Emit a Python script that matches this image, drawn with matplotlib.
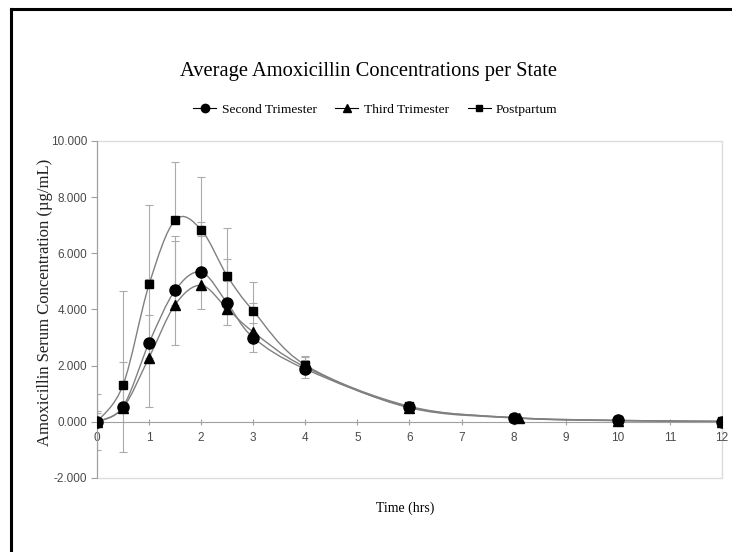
import matplotlib
matplotlib.use('Agg')
import matplotlib.pyplot as plt
from matplotlib.path import Path
from matplotlib.patches import PathPatch, Rectangle
from matplotlib.lines import Line2D
import numpy as np

# 数据
time_2nd = [0, 0.5, 1, 1.5, 2, 2.5, 3, 4, 6, 8, 10, 12]
time_3rd = [0, 0.5, 1, 1.5, 2, 2.5, 3, 4, 6, 8.1, 10, 12]
time_pp = [0, 0.5, 1, 1.5, 2, 2.5, 3, 4, 6, 8, 10, 12]

second_tri = [0.0, 0.54, 2.81, 4.68, 5.33, 4.23, 3.00, 1.88, 0.52, 0.15, 0.05, 0.01]
third_tri = [0.0, 0.50, 2.29, 4.17, 4.86, 4.03, 3.20, 1.95, 0.50, 0.13, 0.04, 0.01]
postpartum = [0.0, 1.31, 4.89, 7.18, 6.84, 5.20, 3.95, 2.02, 0.55, 0.15, 0.05, 0.02]

# 误差（标准差）
sd_2nd = [1.00, 1.60, 2.27, 1.95, 1.30, 0.80, 0.51, 0.31, 0.10, 0.05, 0.02, 0.01]
sd_3rd = [0.30, 0.80, 1.50, 2.28, 2.27, 1.77, 1.04, 0.40, 0.10, 0.05, 0.02, 0.01]
sd_pp = [0.37, 3.34, 2.83, 2.08, 1.86, 1.70, 1.03, 0.30, 0.10, 0.05, 0.02, 0.01]

labels = ['Second Trimester', 'Third Trimester', 'Postpartum']
x_ticks = list(range(0, 13))
y_ticks = [-2, 0, 2, 4, 6, 8, 10]

line_color = '#808080'
err_color = '#ababab'
serif = ['Liberation Serif', 'DejaVu Serif']
sans = ['Liberation Sans', 'DejaVu Sans']


def smooth_path(xs, ys):
    # Excel 风格的平滑曲线（三次贝塞尔）
    xs = np.asarray(xs, float)
    ys = np.asarray(ys, float)
    pts = np.column_stack([xs, ys])
    verts = [pts[0]]
    codes = [Path.MOVETO]
    n = len(pts)
    for i in range(n - 1):
        p0 = pts[i - 1] if i > 0 else pts[i]
        p1 = pts[i]
        p2 = pts[i + 1]
        p3 = pts[i + 2] if i + 2 < n else pts[i + 1]
        c1 = p1 + (p2 - p0) / 6.0
        c2 = p2 - (p3 - p1) / 6.0
        verts += [c1, c2, p2]
        codes += [Path.CURVE4] * 3
    return Path(verts, codes)


fig = plt.figure(figsize=(7.32, 5.52), dpi=100)
ax = fig.add_axes([0.1325, 0.1341, 0.8538, 0.6105])

# 误差棒
ax.errorbar(time_2nd, second_tri, yerr=sd_2nd, fmt='none', ecolor=err_color,
            elinewidth=0.8, capsize=3, capthick=0.8, zorder=1)
ax.errorbar(time_3rd, third_tri, yerr=[np.zeros(len(sd_3rd)), sd_3rd], fmt='none',
            ecolor=err_color, elinewidth=0.8, capsize=3, capthick=0.8, zorder=1)
ax.errorbar(time_pp, postpartum, yerr=[np.zeros(len(sd_pp)), sd_pp], fmt='none',
            ecolor=err_color, elinewidth=0.8, capsize=3, capthick=0.8, zorder=1)

# 平滑曲线
for xs, ys in [(time_2nd, second_tri), (time_3rd, third_tri), (time_pp, postpartum)]:
    ax.add_patch(PathPatch(smooth_path(xs, ys), fill=False, ec=line_color,
                           lw=1.0, transform=ax.transData, zorder=2))

# 标记点
ax.plot(time_2nd, second_tri, 'o', color='black', ms=8, ls='none', zorder=3)
ax.plot(time_3rd, third_tri, '^', color='black', ms=6.5, ls='none', zorder=3)
ax.plot(time_pp, postpartum, 's', color='black', ms=6, ls='none', zorder=3)

ax.set_xlim(0, 12)
ax.set_ylim(-2, 10)
ax.set_xticks(x_ticks)
ax.set_yticks(y_ticks)
ax.set_yticklabels(['%.3f' % v for v in y_ticks])

# 坐标轴
ax.spines['top'].set_visible(False)
ax.spines['right'].set_visible(False)
ax.spines['bottom'].set_position(('data', 0))
ax.spines['bottom'].set_color('#a0a0a0')
ax.spines['left'].set_color('#a0a0a0')
ax.add_patch(Rectangle((0, 0), 1, 1, transform=ax.transAxes, fill=False,
                       ec='#dcdcdc', lw=1.0, zorder=0, clip_on=False))
ax.tick_params(axis='both', colors='#a0a0a0', labelcolor='#4a4a4a',
               labelsize=8.5, length=4)
ax.tick_params(axis='x', direction='inout', length=5, pad=5)
ax.tick_params(axis='y', pad=3)
for t in ax.get_xticklabels() + ax.get_yticklabels():
    t.set_family(sans)

ax.set_ylabel('Amoxicillin Serum Concentration (µg/mL)', family=serif,
              fontsize=12, color='#202020')
ax.yaxis.set_label_coords(-0.071, 0.52)
ax.text(0.4928, -0.07, 'Time (hrs)', transform=ax.transAxes, ha='center',
        va='top', family=serif, fontsize=10)

fig.text(0.504, 0.871, 'Average Amoxicillin Concentrations per State',
         ha='center', va='center', family=serif, fontsize=14.8)

handles = [
    Line2D([], [], color='black', lw=0.8, marker='o', ms=6),
    Line2D([], [], color='black', lw=0.8, marker='^', ms=5.5),
    Line2D([], [], color='black', lw=0.8, marker='s', ms=4.5),
]
fig.legend(handles, labels, loc='center', bbox_to_anchor=(0.513, 0.801), ncol=3,
           frameon=False, prop={'family': serif, 'size': 9.7},
           handlelength=1.7, columnspacing=1.4, handletextpad=0.4)

# 外框（左、上）
fig.add_artist(Line2D([0.0157, 0.0157], [0, 0.984], color='black', lw=2.2,
                      transform=fig.transFigure))
fig.add_artist(Line2D([0.0157, 1.0], [0.984, 0.984], color='black', lw=2.2,
                      transform=fig.transFigure))

fig.savefig('out.png', dpi=100)
